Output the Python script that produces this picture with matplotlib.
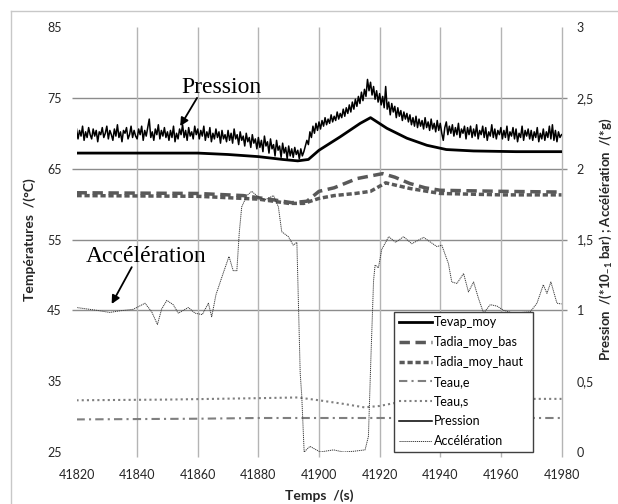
import numpy as np
import matplotlib
matplotlib.use("Agg")
import matplotlib.pyplot as plt
from matplotlib.lines import Line2D

plt.rcParams['font.family'] = ['Lato', 'DejaVu Sans']

# --- data ---
# left axis: temperatures (°C)
tevap_t = [41820, 41860, 41870, 41880, 41888, 41893, 41896.5, 41900, 41907, 41913.6,
           41917, 41922.4, 41929, 41935.6, 41942, 41951, 41965, 41980]
tevap_v = [67.2, 67.2, 67.0, 66.7, 66.3, 66.1, 66.3, 67.6, 69.5, 71.4,
           72.2, 70.7, 69.3, 68.3, 67.7, 67.5, 67.4, 67.4]

bas_t = [41820, 41860, 41875, 41885, 41891, 41896, 41900, 41905, 41912.5, 41921,
         41925, 41930, 41935, 41940, 41960, 41980]
bas_v = [61.6, 61.5, 61.2, 60.6, 60.2, 60.4, 61.8, 62.3, 63.6, 64.3,
         63.8, 62.9, 62.3, 61.95, 61.8, 61.7]

haut_t = [41820, 41860, 41880, 41890, 41895, 41900, 41905, 41912, 41917, 41922,
          41926, 41930, 41940, 41960, 41980]
haut_v = [61.2, 61.1, 60.7, 60.1, 60.1, 60.8, 61.2, 61.5, 61.8, 63.0,
          62.6, 62.2, 61.5, 61.3, 61.3]

teau_e_t = [41820, 41860, 41880, 41980]
teau_e_v = [29.6, 29.7, 29.8, 29.8]

teau_s_t = [41820, 41850, 41880, 41893, 41900, 41908, 41915, 41920, 41926, 41935, 41950, 41980]
teau_s_v = [32.3, 32.4, 32.6, 32.7, 32.3, 31.8, 31.3, 31.5, 32.0, 32.4, 32.5, 32.5]

# right axis: pression (*10-1 bar), one reading every 0.5 s from 41820
pression = [
    2.28, 2.21, 2.27, 2.23, 2.30, 2.20, 2.26, 2.22, 2.29, 2.24,
    2.21, 2.28, 2.23, 2.27, 2.19, 2.26, 2.24, 2.29, 2.22, 2.25,
    2.30, 2.21, 2.27, 2.24, 2.20, 2.28, 2.23, 2.31, 2.22, 2.26,
    2.19, 2.27, 2.25, 2.29, 2.21, 2.24, 2.30, 2.22, 2.27, 2.23,
    2.21, 2.28, 2.24, 2.30, 2.20, 2.27, 2.23, 2.29, 2.35, 2.22,
    2.26, 2.20, 2.28, 2.24, 2.31, 2.21, 2.27, 2.23, 2.29, 2.22,
    2.26, 2.20, 2.27, 2.22, 2.30, 2.19, 2.25, 2.21, 2.28, 2.24,
    2.31, 2.22, 2.27, 2.20, 2.29, 2.23, 2.26, 2.21, 2.30, 2.24,
    2.28, 2.21, 2.27, 2.23, 2.30, 2.20, 2.26, 2.22, 2.29, 2.19,
    2.25, 2.21, 2.28, 2.22, 2.26, 2.18, 2.27, 2.21, 2.24, 2.19,
    2.27, 2.20, 2.25, 2.18, 2.28, 2.21, 2.24, 2.17, 2.26, 2.20,
    2.23, 2.16, 2.25, 2.19, 2.22, 2.15, 2.24, 2.18, 2.21, 2.14,
    2.22, 2.15, 2.20, 2.12, 2.23, 2.16, 2.19, 2.11, 2.21, 2.14,
    2.17, 2.09, 2.20, 2.13, 2.16, 2.08, 2.18, 2.11, 2.15, 2.07,
    2.16, 2.09, 2.14, 2.08, 2.15, 2.10, 2.13, 2.07, 2.14, 2.09,
    2.12, 2.16, 2.20, 2.17, 2.26, 2.22, 2.30, 2.25, 2.32, 2.27,
    2.33, 2.28, 2.34, 2.30, 2.36, 2.31, 2.35, 2.32, 2.38, 2.33,
    2.37, 2.34, 2.40, 2.35, 2.39, 2.36, 2.42, 2.37, 2.43, 2.39,
    2.45, 2.40, 2.47, 2.42, 2.49, 2.44, 2.51, 2.46, 2.54, 2.48,
    2.56, 2.51, 2.63, 2.55, 2.61, 2.52, 2.58, 2.49, 2.55, 2.47,
    2.53, 2.45, 2.51, 2.43, 2.58, 2.42, 2.47, 2.38, 2.46, 2.40,
    2.44, 2.36, 2.43, 2.37, 2.41, 2.34, 2.40, 2.35, 2.39, 2.33,
    2.38, 2.31, 2.36, 2.30, 2.37, 2.29, 2.35, 2.30, 2.34, 2.28,
    2.36, 2.29, 2.33, 2.27, 2.35, 2.28, 2.32, 2.26, 2.34, 2.27,
    2.32, 2.25, 2.20, 2.29, 2.33, 2.24, 2.30, 2.25, 2.31, 2.23,
    2.29, 2.24, 2.32, 2.22, 2.28, 2.25, 2.30, 2.21, 2.29, 2.24,
    2.30, 2.22, 2.28, 2.23, 2.31, 2.21, 2.27, 2.24, 2.30, 2.22,
    2.29, 2.20, 2.26, 2.23, 2.31, 2.22, 2.28, 2.21, 2.27, 2.24,
    2.29, 2.21, 2.27, 2.22, 2.30, 2.20, 2.26, 2.23, 2.29, 2.21,
    2.28, 2.19, 2.25, 2.22, 2.30, 2.20, 2.27, 2.23, 2.28, 2.21,
    2.27, 2.20, 2.26, 2.22, 2.29, 2.19, 2.25, 2.21, 2.28, 2.20,
    2.26, 2.22, 2.30, 2.21, 2.31, 2.20, 2.27, 2.19, 2.26, 2.22,
    2.24,
]
pression_t = 41820 + 0.5 * np.arange(len(pression))

# right axis: acceleration (*g)
acc_t = [41820, 41826.7, 41831, 41834.4, 41838.7, 41842.6, 41844.8, 41846.7, 41848.1, 41849.8,
         41851.9, 41853.6, 41856.9, 41859.1, 41861.5, 41863.5, 41864.6, 41866, 41868.2, 41870.3,
         41871.7, 41872.9, 41873.7, 41874.5, 41876.2, 41877.8, 41880, 41882.2, 41885, 41886.6,
         41887.7, 41889.9, 41891.5, 41892.7, 41893.8, 41894.3, 41895.1, 41897, 41900.4, 41904.8,
         41908, 41911.4, 41915.2, 41916.3, 41917.1, 41918, 41918.5, 41919.6, 41920.7, 41923,
         41925.3, 41927.9, 41930.6, 41934.5, 41938.9, 41940.5, 41942.7, 41943.8, 41945.5, 41947.7,
         41949.3, 41951, 41952.6, 41954.3, 41956.5, 41958.7, 41960.9, 41964.2, 41969.7, 41971.9,
         41974, 41975.2, 41976.5, 41978.5, 41980]
acc_v = [1.02, 1.00, 0.985, 0.997, 1.007, 1.05, 0.99, 0.90, 1.01, 1.07,
         1.04, 0.98, 1.02, 0.98, 0.97, 1.05, 0.955, 1.11, 1.25, 1.38,
         1.28, 1.28, 1.55, 1.73, 1.81, 1.84, 1.80, 1.78, 1.81, 1.73,
         1.555, 1.52, 1.46, 1.48, 0.555, 0.40, 0.0, 0.04, 0.0, 0.015,
         0.0, 0.005, 0.015, 0.11, 0.65, 1.21, 1.32, 1.30, 1.43, 1.52,
         1.48, 1.52, 1.47, 1.515, 1.45, 1.46, 1.33, 1.20, 1.19, 1.26,
         1.13, 1.20, 1.085, 0.98, 1.04, 1.03, 1.0, 0.98, 0.99, 1.05,
         1.18, 1.12, 1.20, 1.05, 1.045]

x_ticks = [41820, 41840, 41860, 41880, 41900, 41920, 41940, 41960, 41980]
left_ticks = [25, 35, 45, 55, 65, 75, 85]
right_ticks = [0, 0.5, 1, 1.5, 2, 2.5, 3]
right_labels = ["0", "0,5", "1", "1,5", "2", "2,5", "3"]
h_grid = [45, 55, 65, 75]

# --- figure ---
fig = plt.figure(figsize=(6.18, 5.04), dpi=100)
ax = fig.add_axes([76.5 / 618, 1 - 452 / 504, 485 / 618, 425 / 504])
ax2 = ax.twinx()

# thin frame of the original picture (only top / left visible)
fig.add_artist(Line2D([11 / 618, 1], [1 - 11 / 504] * 2, color='#c8c8c8', lw=1))
fig.add_artist(Line2D([11 / 618] * 2, [0, 1 - 11 / 504], color='#c8c8c8', lw=1))

ax.set_xlim(41820, 41980)
ax.set_ylim(25, 85)
ax2.set_ylim(0, 3)

for a in (ax, ax2):
    for s in a.spines.values():
        s.set_visible(False)

ax.hlines(h_grid, -5 / 485, 1 + 5 / 485, transform=ax.get_yaxis_transform(),
          colors='#8c8c8c', lw=1, clip_on=False, zorder=0)
ax.vlines(x_ticks[1:], -5 / 425, 1, transform=ax.get_xaxis_transform(),
          colors='#b4b4b4', lw=1, clip_on=False, zorder=0)

ax.set_xticks(x_ticks)
ax.set_yticks(left_ticks)
ax2.set_yticks(right_ticks)
ax2.set_yticklabels(right_labels)
ax.tick_params(axis='both', length=0, labelsize=9, colors='#262626')
ax.tick_params(axis='y', pad=10.5)
ax.tick_params(axis='x', pad=12)
ax2.tick_params(axis='y', length=0, labelsize=9, colors='#262626', pad=11)

l1, = ax.plot(tevap_t, tevap_v, color='black', lw=2, label='Tevap_moy')
l2, = ax.plot(bas_t, bas_v, color='#595959', lw=2.5, dashes=(3, 1.6), label='Tadia_moy_bas')
l3, = ax.plot(haut_t, haut_v, color='#595959', lw=2.5, dashes=(1.5, 0.8), label='Tadia_moy_haut')
l4, = ax.plot(teau_e_t, teau_e_v, color='#7f7f7f', lw=1.5, dashes=(4, 2, 1, 2), label='Teau,e')
l5, = ax.plot(teau_s_t, teau_s_v, color='#7f7f7f', lw=1.5, dashes=(1, 1.5), label='Teau,s')
l6, = ax2.plot(pression_t, pression, color='black', lw=1.1, label='Pression')
l7, = ax2.plot(acc_t, acc_v, color='#3a3a3a', lw=0.7, dashes=(1.2, 0.8), label='Accélération')

ax.set_xlabel('Temps  /(s)', fontsize=10, fontweight='bold', color='#262626', labelpad=6)
ax.set_ylabel('Températures  /(°C)', fontsize=10, fontweight='bold', color='#262626', labelpad=8)
ax2.set_ylabel('Pression  /(*10$_{\\mathregular{-1}}$ bar) ; Accélération  /(*g)',
               fontsize=9.5, fontweight='bold', color='#262626', labelpad=3)

ax.annotate('Pression', xy=(41854.2, 71.0), xytext=(41867.7, 75.7),
            ha='center', va='baseline', fontsize=17, family='Liberation Serif',
            arrowprops=dict(arrowstyle='-|>', color='black', lw=1.3,
                            mutation_scale=12, shrinkA=0, shrinkB=0,
                            patchA=None, relpos=(0.2, 0)))
ax.annotate('Accélération', xy=(41831.6, 45.9), xytext=(41843, 51.8),
            ha='center', va='baseline', fontsize=17, family='Liberation Serif',
            arrowprops=dict(arrowstyle='-|>', color='black', lw=1.3,
                            mutation_scale=12, shrinkA=0, shrinkB=0,
                            patchA=None, relpos=(0.38, 0)))

leg = ax2.legend(handles=[l1, l2, l3, l4, l5, l6, l7], loc='lower left',
                 bbox_to_anchor=(317.5 / 485, 0, 139 / 485, 0.3), mode='expand',
                 fontsize=9, frameon=True, fancybox=False, borderaxespad=0,
                 handlelength=2.6, handletextpad=0.2, labelspacing=0.62,
                 borderpad=0.4)
leg.get_frame().set_edgecolor('#404040')
leg.get_frame().set_linewidth(1)
leg.get_frame().set_alpha(1)

fig.savefig('out.png', dpi=100)
